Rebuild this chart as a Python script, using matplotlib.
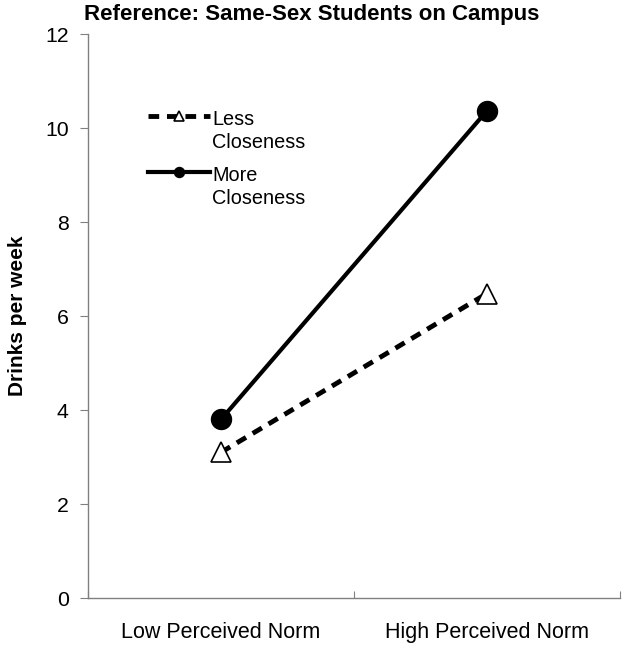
import matplotlib
matplotlib.use("Agg")
import matplotlib.pyplot as plt
from matplotlib.legend_handler import HandlerLine2D

plt.rcParams['font.family'] = ['Liberation Sans', 'DejaVu Sans']

categories = ["Low Perceived Norm", "High Perceived Norm"]
less_closeness = [3.1, 6.48]
more_closeness = [3.8, 10.37]
yticks = [0, 2, 4, 6, 8, 10, 12]

LEG_FS = 14.3


class UpHandler(HandlerLine2D):
    """Align the legend handle with the first line of a two-line label."""
    def create_artists(self, legend, orig_handle, xdescent, ydescent, width,
                       height, fontsize, trans):
        shift = 0.5 * fontsize * 1.2 + 14
        return super().create_artists(legend, orig_handle, xdescent,
                                      ydescent - shift, width, height,
                                      fontsize, trans)


fig = plt.figure(figsize=(6.25, 6.46), dpi=100)
ax = fig.add_axes([0.1408, 0.0743, 0.851, 0.8727])

xpos = [0.5, 1.5]
l1, = ax.plot(xpos, less_closeness, linestyle=(0, (2.2, 1.6)), color='black', lw=3.5,
              marker='^', markersize=15, markerfacecolor='white', markeredgecolor='black',
              markeredgewidth=1.2, label='Less\nCloseness')
l2, = ax.plot(xpos, more_closeness, linestyle='-', color='black', lw=3,
              marker='o', markersize=14.4, markerfacecolor='black', label='More\nCloseness')

ax.set_xlim(0, 2)
ax.set_ylim(0, 12)
ax.set_yticks(yticks)
ax.set_yticklabels([str(t) for t in yticks], fontsize=15.3)
ax.set_xticks([0, 1, 2])
ax.set_xticklabels([])
ax.set_xticks(xpos, minor=True)
ax.set_xticklabels(categories, minor=True, fontsize=15.5)
ax.tick_params(axis='x', which='minor', length=0, pad=17)
ax.tick_params(axis='x', which='major', direction='in', length=5, color='#808080')
ax.tick_params(axis='y', direction='out', length=6, color='#808080', pad=8)

for s in ['top', 'right']:
    ax.spines[s].set_visible(False)
for s in ['left', 'bottom']:
    ax.spines[s].set_color('#808080')
    ax.spines[s].set_linewidth(1)

ax.set_ylabel('Drinks per week', fontsize=15, fontweight='bold', labelpad=13)
fig.text(0.134, 0.978, 'Reference: Same-Sex Students on Campus', fontsize=16,
         fontweight='bold', ha='left', va='center')

leg = ax.legend(handles=[l1, l2], loc='upper left', bbox_to_anchor=(0.113, 0.866),
                frameon=False, borderpad=0, borderaxespad=0,
                fontsize=LEG_FS, handlelength=3.1, handletextpad=0.12,
                labelspacing=0.75, markerscale=0.5,
                handler_map={l1: UpHandler(), l2: UpHandler()})
for t in leg.get_texts():
    t.set_linespacing(1.25)

fig.savefig('out.png', dpi=100)
